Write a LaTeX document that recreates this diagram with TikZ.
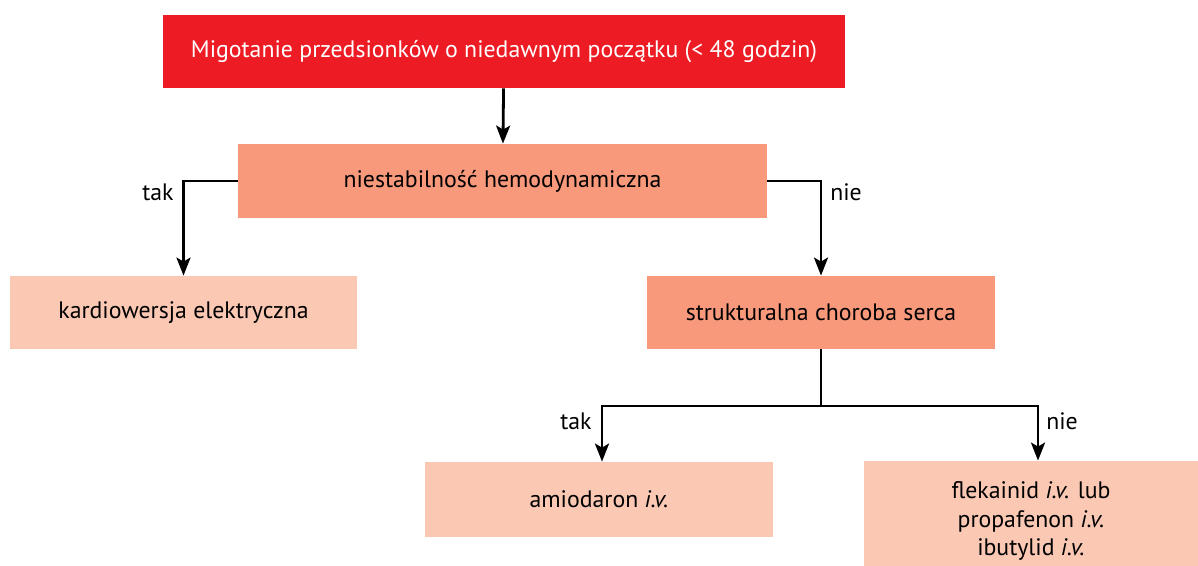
\documentclass[tikz,border=0pt]{standalone}
\usepackage{fontspec}
\setmainfont{PT Sans}
\usetikzlibrary{arrows.meta,positioning}
\definecolor{topred}{HTML}{ED1C24}
\definecolor{salmon}{HTML}{F8997B}
\definecolor{peach}{HTML}{FAC8B3}
\tikzset{
    box/.style={
           rectangle,
           inner sep=0pt,
           text centered,
           font=\fontsize{11.9}{14.3}\selectfont,
           },
}
\begin{document}
\begin{tikzpicture}[
  x=0.5pt,y=-0.5pt,
  link/.style={-{Stealth[length=9pt,width=7pt,inset=2pt]},line width=1.4pt},
  head/.style={box,fill=topred,text=white},
  ask/.style={box,fill=salmon},
  act/.style={box,fill=peach},
  lab/.style={font=\fontsize{11.9}{14.3}\selectfont}]
\useasboundingbox (0,0) rectangle (1198,566);
\node[head,minimum width=341pt,minimum height=36.5pt] (onset) at (504,51.5) {Migotanie przedsionków o niedawnym początku (< 48 godzin)};
\node[ask,minimum width=264.5pt,minimum height=37pt] (unstable) at (502.5,181) {niestabilność hemodynamiczna};
\node[act,minimum width=173.5pt,minimum height=36.5pt] (cardiov) at (183.5,312.5) {kardiowersja elektryczna};
\node[ask,minimum width=174pt,minimum height=36.5pt] (struct) at (821,312.5) {strukturalna choroba serca};
\node[act,minimum width=174pt,minimum height=37.5pt] (amio) at (599,499.5) {amiodaron \textit{i.v.}};
% box runs past the lower edge of the page
\node[act,minimum width=167pt,minimum height=60pt,align=center] (flec) at (1031,521) {flekainid \textit{i.v.} lub\\propafenon \textit{i.v.}\\ibutylid \textit{i.v.}};
\coordinate (split) at (821,406);

\draw[link] (onset) -- (unstable);
\draw[link] (unstable.west) -| (cardiov.north);
\draw[link] (unstable.east) -| (struct.north);
\draw[line width=1.4pt] (struct.south) -- (split);
\draw[link] (split) -| ([xshift=1.5pt]amio.north);
\draw[link] (split) -| ([xshift=3.5pt]flec.north);

\node[lab] (yes1) at (158,192) {tak};
\node[lab] (no1) at (846,192) {nie};
\node[lab] (yes2) at (576,421) {tak};
\node[lab] (no2) at (1062,421) {nie};
\end{tikzpicture}
\end{document}
